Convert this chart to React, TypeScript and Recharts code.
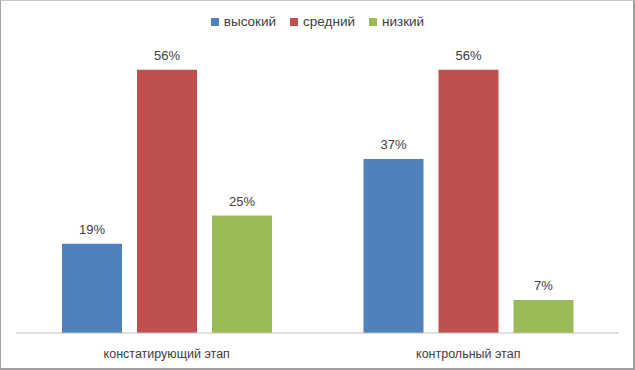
import React from "react";
import { BarChart, Bar, XAxis, YAxis, Legend, LabelList } from "recharts";

const categories = ["констатирующий этап", "контрольный этап"];
const seriesNames = ["высокий", "средний", "низкий"];
const highValues = [19, 37];
const mediumValues = [56, 56];
const lowValues = [25, 7];
const colors = ["#4F81BD", "#C0504D", "#9BBB59"];

const data = categories.map((c, i) => ({
  name: c,
  high: highValues[i],
  medium: mediumValues[i],
  low: lowValues[i],
}));

const keys = ["high", "medium", "low"];
const FONT = "'Liberation Sans', Arial, sans-serif";

const renderLegend = () => (
  <div style={{ display: "flex", justifyContent: "center", fontFamily: FONT, fontSize: 13.5, lineHeight: "15px", color: "#404040" }}>
    {seriesNames.map((n, i) => (
      <div key={n} style={{ display: "flex", alignItems: "center", marginRight: i < 2 ? 14 : 0 }}>
        <span style={{ display: "inline-block", width: 8, height: 8, background: colors[i], marginRight: 5 }} />
        <span>{n}</span>
      </div>
    ))}
  </div>
);

export default function App() {
  return (
    <div style={{ position: "fixed", left: 0, top: 0, width: 632, height: 367, borderTop: "1px solid #c8c8c8", borderLeft: "1px solid #a6a6a6", borderRight: "2px solid #a0a0a0", borderBottom: "2px solid #a0a0a0", background: "#fff" }}>
      <div style={{ position: "absolute", left: -1, top: -1 }}>
        <BarChart
          width={635}
          height={370}
          data={data}
          margin={{ top: 36, right: 16, left: 16, bottom: 7 }}
          barSize={60}
          barGap={15}
        >
          <XAxis
            dataKey="name"
            axisLine={{ stroke: "#bfbfbf" }}
            tickLine={false}
            tickSize={0}
            tickMargin={16}
            height={30}
            tick={{ fill: "#404040", fontSize: 12.5, fontFamily: FONT }}
          />
          <YAxis hide domain={[0, 60]} />
          <Legend verticalAlign="top" content={renderLegend} wrapperStyle={{ top: 14, left: 0, width: 635 }} />
          {keys.map((k, i) => (
            <Bar key={k} dataKey={k} name={seriesNames[i]} fill={colors[i]} isAnimationActive={false}>
              <LabelList
                dataKey={k}
                position="top"
                offset={10}
                formatter={(v: any) => `${v}%`}
                style={{ fill: "#404040", fontSize: 13, fontFamily: FONT }}
              />
            </Bar>
          ))}
        </BarChart>
      </div>
    </div>
  );
}
